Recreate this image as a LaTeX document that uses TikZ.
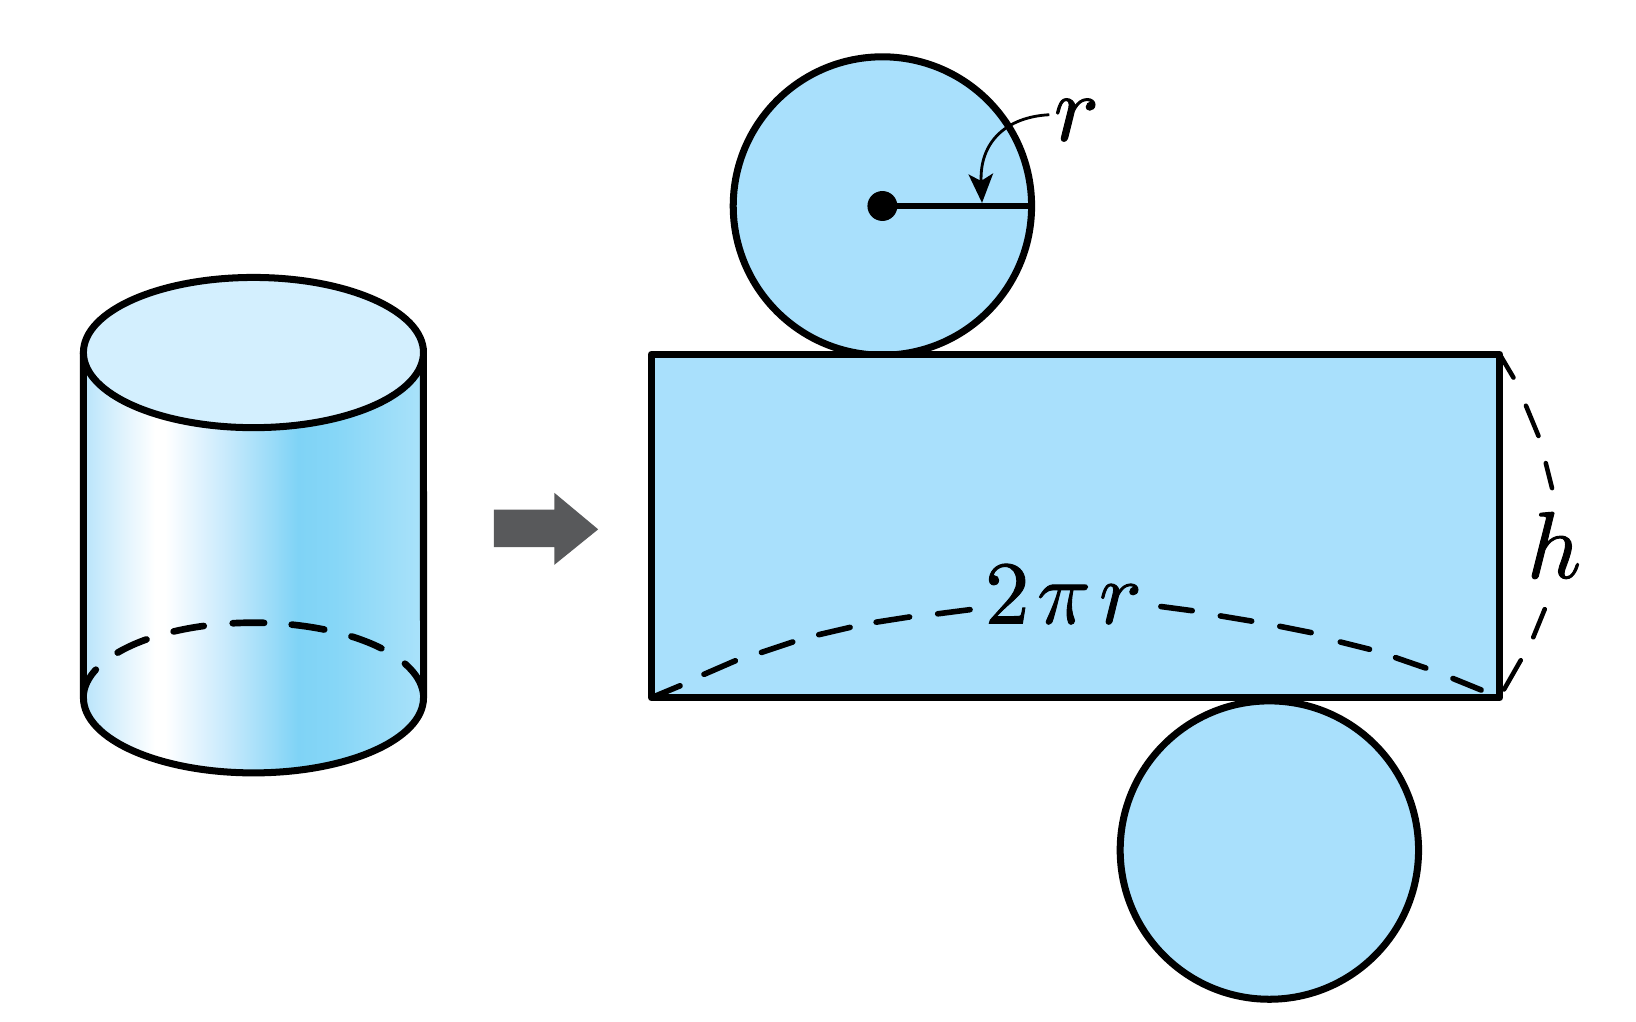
\documentclass[tikz,border=0pt]{standalone}
\usetikzlibrary{arrows.meta}
\definecolor{pale}{HTML}{D3EFFE}
\definecolor{netblue}{HTML}{A9E0FC}
\definecolor{arrowgrey}{HTML}{58595B}
\definecolor{c0}{HTML}{B9E4FB}
\definecolor{c1}{HTML}{CEECFD}
\definecolor{c2}{HTML}{A6DFF9}
\definecolor{c3}{HTML}{7FD3F6}
\definecolor{c4}{HTML}{86D6F7}
\definecolor{c5}{HTML}{AAE2FA}
\pgfdeclarehorizontalshading{cylshade}{100bp}{
  color(0bp)=(c0);
  color(25bp)=(c0);
  color(35.5bp)=(white);
  color(37bp)=(white);
  color(45bp)=(c1);
  color(51bp)=(c2);
  color(56.5bp)=(c3);
  color(62bp)=(c4);
  color(75bp)=(c5);
  color(100bp)=(c5)}
\newcommand{\heavy}[1]{\special{pdf:code 2 Tr 0.1 w}#1\special{pdf:code 0 Tr 1 w}}
\tikzset{
  outline/.style={draw=black,line width=4pt,line join=round},
  dashbit/.style={line width=3.8pt,line cap=round},
  dashbitthin/.style={line width=3.2pt,line cap=round},
  hbit/.style={line width=2.6pt,line cap=round},
  maths/.style={inner sep=0pt,scale=5.4},
  mathswide/.style={inner sep=0pt,scale=5.1}
}
\begin{document}
\begin{tikzpicture}[x=0.020907cm,y=-0.020907cm]
\useasboundingbox (0,0) rectangle (1568.5,978.9);
\def\ur{3.4078cm}% 163 units
\def\vr{1.5053cm}% 72 units
% cylinder
\shade[shading=cylshade] (80,338) -- (80,669) arc[start angle=180,end angle=360,x radius=\ur,y radius=\vr] -- (406,338) -- cycle;
\draw[outline] (80,338) -- (80,669) arc[start angle=180,end angle=360,x radius=\ur,y radius=\vr] -- (406,338);
\draw[outline,fill=pale] (243,338) ellipse[x radius=\ur,y radius=\vr];
\foreach \a/\b in {180/158,143/129,118/107,97/86.4,77/65.4,54.8/41.2,27/0}
  \draw[dashbit] plot[domain=\a:\b,samples=12,smooth] ({243+163*cos(\x)},{669-72*sin(\x)});
% block arrow
\fill[arrowgrey] (473.5,488.5) -- (531.5,488.5) -- (531.5,472.5) -- (573.5,507.5) -- (531.5,541.5) -- (531.5,524.5) -- (473.5,524.5) -- cycle;
% net
\draw[outline,fill=netblue] (846,197.5) circle[radius=2.99cm];
\draw[outline,fill=netblue] (1217,815) circle[radius=2.99cm];
\draw[outline,fill=netblue] (624.5,339.5) rectangle (1438,669);
% radius
\coordinate (cc) at (846,197.5);
\coordinate (rim) at (988,197.5);
\coordinate (foot) at (941.5,194.5);
\fill[black] (cc) circle[radius=0.3cm];
\draw[line width=3.8pt] (cc) -- (rim);
% labels
\node[maths] (rlabel) at (1032,115) {\heavy{$r$}};
\node[mathswide] (circ) at (1019.5,570) {\heavy{$2\mskip1.5mu\pi\mskip1.6mu r$}};
\node[maths] (hlabel) at (1490,522.5) {\heavy{$h$}};
\coordinate (rstart) at (1006,110);
\draw[line width=1.6pt,-{Stealth[length=16.5pt,width=14pt,inset=4pt]}] (rstart) .. controls (966,112) and (939,135) .. (foot);
% dashed 2 pi r
\foreach \xa/\ya/\xb/\yb in {628/667.5/652/657.5,675/646.5/705/633.5,730/625.5/760/615.5,785/608.5/815/601.5,840/596.5/872/591.5,899/588.5/930/584.5,1113/581.5/1143/585.5,1170/590.5/1200/595.5,1227/600.5/1257/606.5,1285/615.5/1313/622.5,1338/630.5/1367/640.5,1393/650.5/1420/661.5}
  \draw[dashbitthin] (\xa,\ya) -- (\xb,\yb);
% dashed h
\foreach \xa/\ya/\xb/\yb in {1438/340/1451/362,1463/389/1475/418,1482/444/1488/468,1481/584/1470/611,1458/633/1442/661}
  \draw[hbit] (\xa,\ya) -- (\xb,\yb);
\end{tikzpicture}
\end{document}
